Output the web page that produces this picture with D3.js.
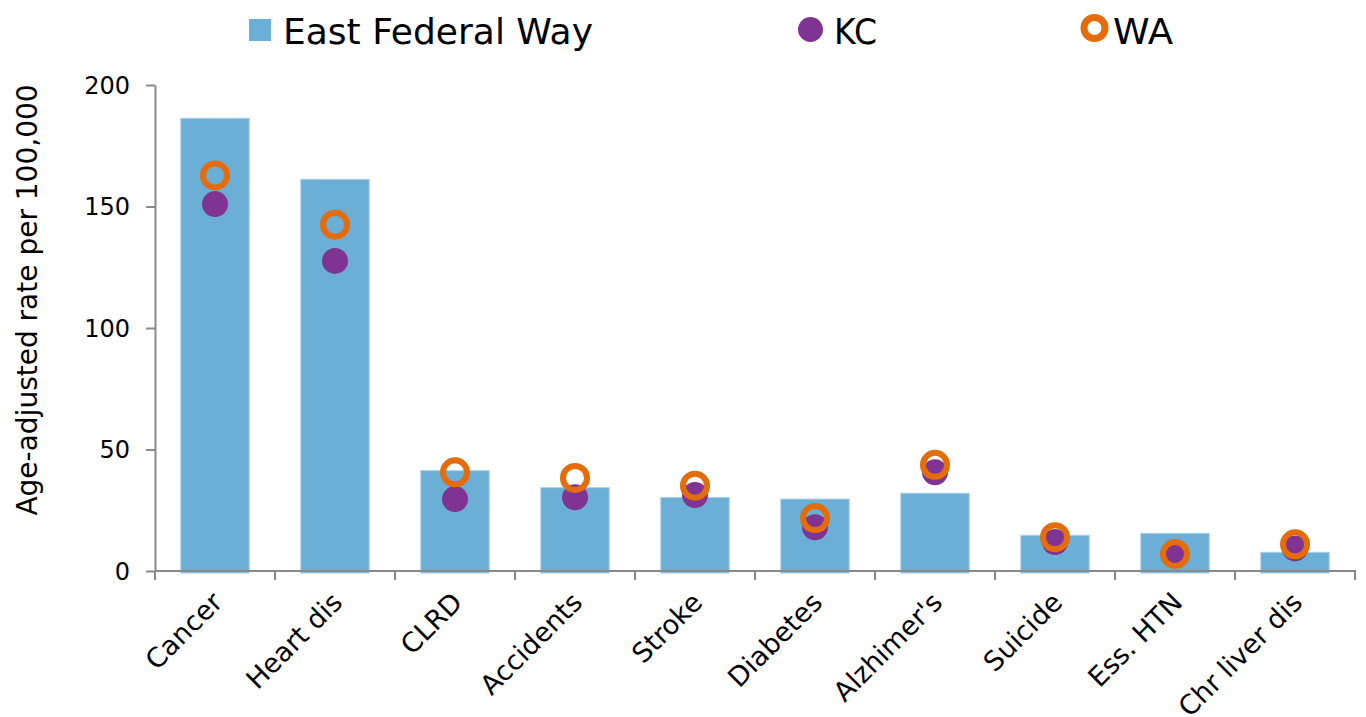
<!DOCTYPE html>
<html>
<head>
<meta charset="utf-8">
<script src="https://cdn.jsdelivr.net/npm/d3@7"></script>
<style>
  body { margin: 0; background: #fff; }
  .canvas text { font-family: 'DejaVu Sans', sans-serif; fill: #000; }
</style>
</head>
<body>
<div class="canvas"></div>
<script>
// data
const categories = ['Cancer', 'Heart dis', 'CLRD', 'Accidents', 'Stroke', 'Diabetes', "Alzhimer's", 'Suicide', 'Ess. HTN', 'Chr liver dis'];
const eastFederalWay = [186.3, 161.2, 41.3, 34.3, 30.3, 29.6, 32.0, 14.7, 15.5, 7.7];
const kc = [151.0, 127.6, 29.6, 30.3, 31.3, 18.0, 40.6, 11.9, 7.0, 9.3];
const wa = [162.8, 142.5, 40.6, 38.3, 35.1, 21.8, 43.7, 13.9, 7.0, 11.0];
const yTicks = [0, 50, 100, 150, 200];

const width = 1366, height = 717;
const plotLeft = 155, plotRight = 1355, plotTop = 85, plotBottom = 571;

const svg = d3.select('.canvas').append('svg')
    .attr('width', width)
    .attr('height', height);

const x = d3.scaleBand()
    .domain(categories)
    .range([plotLeft, plotRight])
    .paddingInner(0.43)
    .paddingOuter(0.215);

const xStep = d3.scaleBand()
    .domain(categories)
    .range([plotLeft, plotRight]);

const y = d3.scaleLinear()
    .domain([0, 200])
    .range([plotBottom, plotTop]);

// bars
svg.append('g').selectAll('rect')
    .data(categories)
    .join('rect')
    .attr('x', d => x(d))
    .attr('y', (d, i) => y(eastFederalWay[i]))
    .attr('width', x.bandwidth())
    .attr('height', (d, i) => y(0) - y(eastFederalWay[i]) + 2)
    .attr('fill', '#6baed6')
    .attr('stroke', '#a9d0ea')
    .attr('stroke-width', 1);

// y axis
const yAxis = svg.append('g')
    .attr('transform', `translate(${plotLeft},0)`)
    .call(d3.axisLeft(y).tickValues(yTicks).tickSize(9).tickPadding(16).tickSizeOuter(0));
yAxis.select('.domain').attr('stroke', '#898989').attr('stroke-width', 2);
yAxis.selectAll('.tick line').attr('stroke', '#898989').attr('stroke-width', 2);
yAxis.selectAll('.tick text').style('font-size', '24px').attr('fill', '#000').attr('dy', '0.35em');

// x axis
const xAxis = svg.append('g');
xAxis.append('line')
    .attr('x1', plotLeft).attr('x2', plotRight + 1)
    .attr('y1', y(0)).attr('y2', y(0))
    .attr('stroke', '#898989').attr('stroke-width', 2);
xAxis.selectAll('line.tk')
    .data(categories.concat(['__end']))
    .join('line')
    .attr('class', 'tk')
    .attr('x1', (d, i) => plotLeft + i * xStep.step())
    .attr('x2', (d, i) => plotLeft + i * xStep.step())
    .attr('y1', y(0))
    .attr('y2', y(0) + 9)
    .attr('stroke', '#898989').attr('stroke-width', 2);
xAxis.selectAll('text')
    .data(categories)
    .join('text')
    .attr('transform', d => `translate(${xStep(d) + xStep.bandwidth() / 2 + 9},${y(0) + 33}) rotate(-45)`)
    .attr('text-anchor', 'end')
    .style('font-size', '27px')
    .text(d => d);

// y title
svg.append('text')
    .attr('transform', `translate(37,300) rotate(-90)`)
    .attr('text-anchor', 'middle')
    .style('font-size', '28px')
    .text('Age-adjusted rate per 100,000');

// KC dots
svg.append('g').selectAll('circle')
    .data(categories)
    .join('circle')
    .attr('cx', d => x(d) + x.bandwidth() / 2)
    .attr('cy', (d, i) => y(kc[i]))
    .attr('r', 13)
    .attr('fill', '#7f3493');

// WA rings
svg.append('g').selectAll('circle')
    .data(categories)
    .join('circle')
    .attr('cx', d => x(d) + x.bandwidth() / 2)
    .attr('cy', (d, i) => y(wa[i]))
    .attr('r', 12)
    .attr('fill', 'none')
    .attr('stroke', '#e46c0a')
    .attr('stroke-width', 6);

// legend
const legend = svg.append('g');
legend.append('rect')
    .attr('x', 249).attr('y', 19)
    .attr('width', 22).attr('height', 22)
    .attr('fill', '#6baed6');
legend.append('text')
    .attr('x', 283).attr('y', 44)
    .attr('textLength', 310)
    .attr('lengthAdjust', 'spacingAndGlyphs')
    .style('font-size', '36px')
    .text('East Federal Way');
legend.append('circle')
    .attr('cx', 810.5).attr('cy', 29.5).attr('r', 12.5)
    .attr('fill', '#7f3493');
legend.append('text')
    .attr('x', 834).attr('y', 44)
    .attr('textLength', 43)
    .attr('lengthAdjust', 'spacingAndGlyphs')
    .style('font-size', '36px')
    .text('KC');
legend.append('circle')
    .attr('cx', 1094.5).attr('cy', 28).attr('r', 10.5)
    .attr('fill', 'none')
    .attr('stroke', '#e46c0a')
    .attr('stroke-width', 7);
legend.append('text')
    .attr('x', 1113).attr('y', 44)
    .attr('textLength', 60)
    .attr('lengthAdjust', 'spacingAndGlyphs')
    .style('font-size', '36px')
    .text('WA');
</script>
</body>
</html>
